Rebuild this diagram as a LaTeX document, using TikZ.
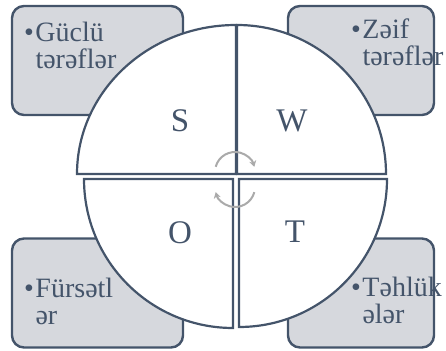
\documentclass[tikz,border=0pt]{standalone}
\usepackage{fontspec}
\setmainfont{Liberation Serif}
\usetikzlibrary{arrows.meta, positioning}

\definecolor{slate}{HTML}{44546A}
\definecolor{boxgray}{RGB}{214,216,221}
\definecolor{cyclegray}{RGB}{170,170,170}

\begin{document}
\begin{tikzpicture}[
        x=1pt, y=1pt,
        box/.style={
            rectangle, rounded corners=12pt, draw=slate, line width=2.4pt,
            fill=boxgray, minimum height=109pt
        },
        boxText/.style={
            anchor=base west, inner sep=0pt, align=left, text=slate,
            font=\fontsize{28}{27}\selectfont
        },
        quadrant/.style={
            draw=slate, line width=2.2pt, fill=white, line join=miter
        },
        letter/.style={
            text=slate, font=\fontsize{33}{33}\selectfont
        },
        cycleArrow/.style={
            draw=cyclegray, line width=2pt, -{Stealth[length=6pt, width=7pt]}
        }
    ]
        \useasboundingbox (0,0) rectangle (446,350);

        % Corner boxes
        \node (strengths) [box, minimum width=171pt] at (97.5,289.5) {};
        \node (weaknesses) [box, minimum width=146pt] at (361,289.5) {};
        \node (chances) [box, minimum width=171pt] at (97.5,57) {};
        \node (threats) [box, minimum width=146pt] at (361,57) {};

        % Quadrants
        \draw [quadrant] (236,176) -- (77,176) arc[start angle=180, end angle=90, x radius=159, y radius=149] -- cycle;
        \draw [quadrant] (237,176) -- (237,325) arc[start angle=90, end angle=0, radius=149] -- cycle;
        \draw [quadrant] (233,171) -- (84,171) arc[start angle=180, end angle=270, radius=149] -- cycle;
        \draw [quadrant] (239,171) -- (387,171) arc[start angle=0, end angle=-90, radius=148] -- cycle;

        % Letters
        \node (s) [letter] at (180,229) {S};
        \node (w) [letter] at (292,229) {W};
        \node (o) [letter] at (180,117) {O};
        \node (t) [letter] at (295,118) {T};

        % Cycle arrows
        \coordinate (upperHub) at (235,178);
        \coordinate (lowerHub) at (235,163);
        \draw [cycleArrow] ([shift={(165:20)}]upperHub) arc[start angle=165, end angle=15, radius=20];
        \draw [cycleArrow] ([shift={(-15:20)}]lowerHub) arc[start angle=-15, end angle=-165, radius=20];

        % Box texts (base = last line)
        \node (strengthsText) [boxText] at (24,281) {•\hspace{1.5pt}Güclü\\\phantom{•\hspace{1.5pt}}tərəflər};
        \node (weaknessesText) [boxText] at (351,284) {•\hspace{1.5pt}Zəif\\\phantom{•\hspace{1.5pt}}tərəflər};
        \node (chancesText) [boxText] at (24,25) {•\hspace{1.5pt}Fürsətl\\\phantom{•\hspace{1.5pt}}ər};
        \node (threatsText) [boxText] at (351,27) {•\hspace{1.5pt}Təhlük\\\phantom{•\hspace{1.5pt}}ələr};
    \end{tikzpicture}
\end{document}
